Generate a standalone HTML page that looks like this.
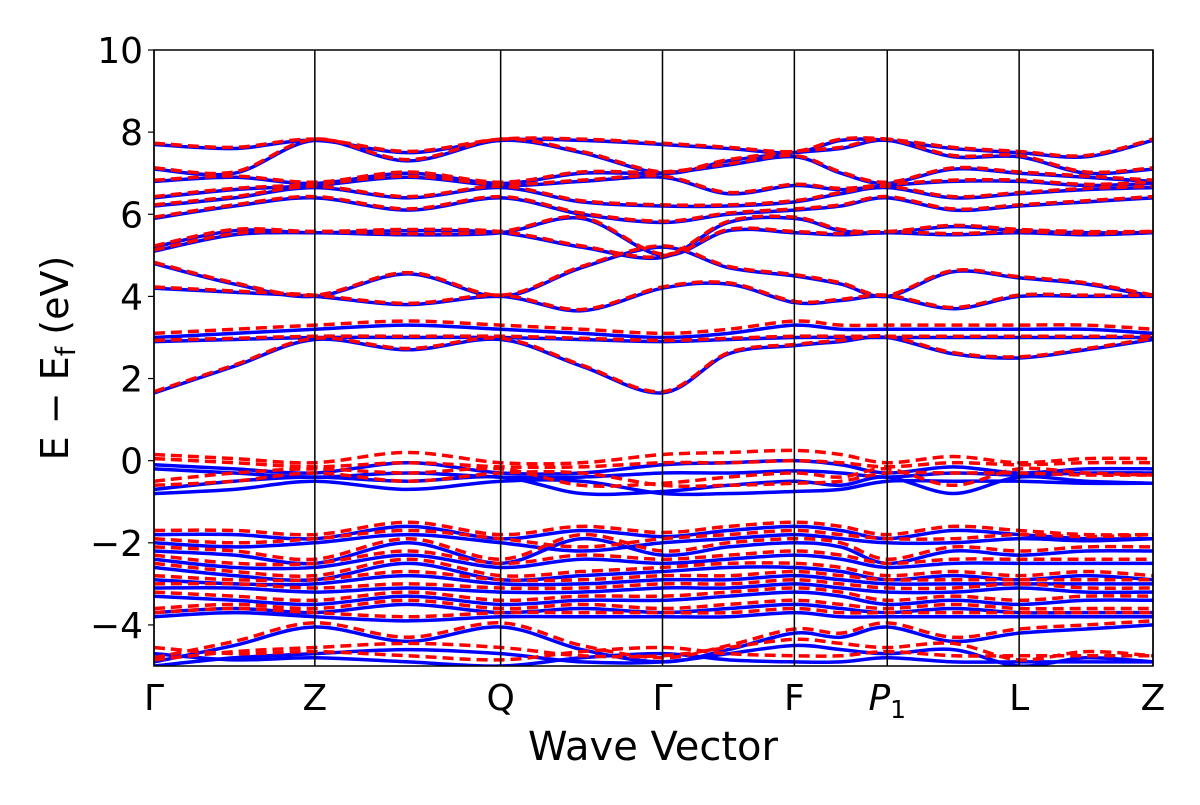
<!DOCTYPE html>
<html><head><meta charset="utf-8"><style>
body{margin:0;background:#fff;}
svg text{font-family:"DejaVu Sans","Liberation Sans",sans-serif;fill:#000;}
</style></head><body>
<svg width="1200" height="800" xmlns="http://www.w3.org/2000/svg">
<g id="blue"></g>
<g id="red"></g>
<g id="axes"></g>
</svg>
<script>
const kTicks = [0, 1, 2, 3, 4, 5, 6, 7];
const kTickLabels = ["Γ","Z","Q","Γ","F","P1","L","Z"];
const kTickPos = [0, 0.161, 0.347, 0.509, 0.641, 0.734, 0.866, 1.0];
const yTicks = [-4,-2,0,2,4,6,8,10];
const yTickLabels = ["−4","−2","0","2","4","6","8","10"];
const blueBands = [
[1.65,2.3,2.95,2.7,2.95,2.3,1.65,2.6,2.8,2.9,3.0,2.6,2.5,2.7,2.95],
[2.9,2.95,3.0,3.0,3.0,2.95,2.9,2.95,3.0,3.0,3.0,3.0,3.0,3.0,3.0],
[3.0,3.1,3.2,3.3,3.2,3.1,3.0,3.1,3.3,3.2,3.2,3.2,3.2,3.2,3.1],
[4.2,4.1,4.0,3.8,4.0,3.65,4.2,4.3,3.85,3.9,4.0,3.7,4.0,4.0,4.0],
[4.8,4.3,4.0,4.55,4.0,4.7,5.2,4.7,4.5,4.3,4.0,4.6,4.45,4.3,4.0],
[5.1,5.5,5.55,5.5,5.55,5.9,5.0,5.6,5.55,5.5,5.55,5.5,5.55,5.5,5.55],
[5.2,5.6,5.55,5.6,5.55,5.2,4.95,5.8,5.9,5.6,5.55,5.7,5.6,5.55,5.55],
[5.9,6.2,6.4,6.1,6.4,6.0,5.8,6.0,6.1,6.2,6.4,6.1,6.2,6.3,6.4],
[6.2,6.4,6.65,6.4,6.65,6.3,6.2,6.2,6.3,6.5,6.65,6.4,6.5,6.6,6.65],
[6.4,6.6,6.7,6.9,6.7,6.8,6.9,6.5,6.7,6.6,6.7,6.8,6.8,6.7,6.75],
[6.8,6.9,6.75,7.0,6.75,7.0,7.0,7.2,7.4,7.0,6.75,7.1,7.0,6.9,6.8],
[7.1,7.0,7.8,7.3,7.8,7.5,7.0,7.3,7.5,7.6,7.8,7.4,7.4,7.0,7.1],
[7.7,7.6,7.8,7.5,7.8,7.8,7.7,7.6,7.5,7.8,7.8,7.6,7.5,7.4,7.8],
[-0.1,-0.2,-0.3,-0.05,-0.3,-0.3,-0.1,-0.05,0.0,-0.1,-0.3,-0.15,-0.3,-0.2,-0.2],
[-0.2,-0.3,-0.4,-0.3,-0.4,-0.4,-0.3,-0.3,-0.25,-0.3,-0.4,-0.3,-0.35,-0.3,-0.3],
[-0.7,-0.5,-0.4,-0.5,-0.4,-0.8,-0.75,-0.6,-0.5,-0.6,-0.4,-0.8,-0.4,-0.5,-0.55],
[-0.8,-0.7,-0.5,-0.7,-0.5,-0.5,-0.8,-0.8,-0.75,-0.7,-0.5,-0.5,-0.5,-0.55,-0.55],
[-1.8,-1.8,-1.9,-1.6,-1.9,-1.7,-1.85,-1.7,-1.6,-1.7,-1.9,-1.7,-1.8,-1.9,-1.9],
[-2.0,-2.1,-2.0,-1.8,-2.0,-2.2,-2.0,-1.9,-1.8,-1.9,-2.0,-2.0,-1.9,-1.95,-1.9],
[-2.2,-2.3,-2.5,-2.0,-2.5,-1.9,-2.3,-2.1,-2.0,-2.1,-2.5,-2.2,-2.3,-2.2,-2.2],
[-2.4,-2.6,-2.6,-2.3,-2.6,-2.4,-2.5,-2.4,-2.3,-2.4,-2.6,-2.5,-2.5,-2.5,-2.5],
[-2.6,-2.8,-2.9,-2.5,-2.9,-2.8,-2.7,-2.6,-2.6,-2.7,-2.9,-2.8,-2.9,-2.8,-2.9],
[-2.9,-3.0,-3.0,-2.8,-3.0,-3.0,-2.9,-2.9,-2.8,-2.9,-3.0,-3.0,-3.0,-3.0,-3.0],
[-3.1,-3.1,-3.2,-3.1,-3.2,-3.2,-3.1,-3.1,-3.0,-3.1,-3.2,-3.2,-3.1,-3.2,-3.2],
[-3.3,-3.4,-3.5,-3.3,-3.5,-3.4,-3.4,-3.3,-3.2,-3.3,-3.5,-3.4,-3.5,-3.4,-3.4],
[-3.7,-3.6,-3.7,-3.5,-3.7,-3.6,-3.7,-3.6,-3.5,-3.6,-3.7,-3.6,-3.7,-3.7,-3.7],
[-3.8,-3.7,-3.8,-3.9,-3.8,-3.8,-3.8,-3.8,-3.7,-3.8,-3.8,-3.8,-3.8,-3.8,-3.8],
[-4.9,-4.5,-4.05,-4.4,-4.05,-4.6,-4.9,-4.6,-4.2,-4.3,-4.05,-4.4,-4.2,-4.1,-4.0],
[-5.0,-4.8,-4.7,-4.6,-4.7,-4.9,-4.9,-4.7,-4.5,-4.6,-4.7,-4.6,-5.0,-4.8,-4.9],
[-4.7,-4.85,-4.8,-4.9,-5.0,-4.8,-4.7,-4.85,-4.9,-4.9,-4.8,-4.9,-4.9,-4.9,-4.9]
];
const redOffsets = [0.03,0.03,0.1,0.03,0.03,0.03,0.03,0.03,0.03,0.03,0.03,0.03,0.03,0.25,0.25,0.2,0.2,0.1,0.1,0.1,0.1,0.1,0.1,0.1,0.1,0.1,0.1,0.1,0.15,0.15];

const X0=154,X1=1153,Y0=50,Y1=666,YMIN=-5,YMAX=10;
const xs=f=>X0+f*(X1-X0);
const ys=v=>Y1-(v-YMIN)/(YMAX-YMIN)*(Y1-Y0);
const NS="http://www.w3.org/2000/svg";
function mk(tag,attrs,parent){const e=document.createElementNS(NS,tag);for(const k in attrs)e.setAttribute(k,attrs[k]);parent.appendChild(e);return e;}
function kFrac(i){const seg=Math.floor(i/2);if(i%2===0)return kTickPos[seg];return (kTickPos[seg]+kTickPos[seg+1])/2;}
function pathFor(vals){
  const p=vals.map((v,i)=>[xs(kFrac(i)),ys(v)]);
  let d=`M${p[0][0]},${p[0][1]}`;
  for(let i=0;i<p.length-1;i++){
    const a=p[Math.max(i-1,0)],b=p[i],c=p[i+1],e=p[Math.min(i+2,p.length-1)];
    const c1=[b[0]+(c[0]-a[0])/6,b[1]+(c[1]-a[1])/6],c2=[c[0]-(e[0]-b[0])/6,c[1]-(e[1]-b[1])/6];
    d+=`C${c1[0]},${c1[1]} ${c2[0]},${c2[1]} ${c[0]},${c[1]}`;
  }
  return d;
}
const svg=document.querySelector('svg');
const defs=mk('defs',{},svg);
const cp=mk('clipPath',{id:'clip'},defs);
mk('rect',{x:X0,y:Y0,width:X1-X0,height:Y1-Y0},cp);
const gb=document.getElementById('blue'),gr=document.getElementById('red');
gb.setAttribute('clip-path','url(#clip)');gr.setAttribute('clip-path','url(#clip)');
blueBands.forEach((b,i)=>{
  const el=mk('path',{d:pathFor(b),fill:'none',stroke:'#0000ff','stroke-width':3.5},gb);
  
  
});
blueBands.forEach((b,i)=>{
  const el=mk('path',{d:pathFor(b.map(v=>v+redOffsets[i])),fill:'none',stroke:'#ff0000','stroke-width':3.5,'stroke-dasharray':'11,6'},gr);
  
  
});
const ga=document.getElementById('axes');
kTickPos.forEach((f,i)=>{
  const x=xs(f);
  const l=mk('line',{x1:x,x2:x,y1:Y0,y2:Y1,stroke:'#000','stroke-width':1.5},ga);
  
  
  const t=mk('text',{x:x,y:710,'font-size':36,'text-anchor':'middle'},ga);
  
  
  if(kTickLabels[i]==='P1'){t.innerHTML='<tspan font-style="italic">P</tspan><tspan font-size="25" dy="8">1</tspan>';}
  else t.textContent=kTickLabels[i];
});
yTicks.forEach((v,i)=>{
  const y=ys(v);
  mk('line',{x1:X0-6,x2:X0,y1:y,y2:y,stroke:'#000','stroke-width':1.2},ga);
  const t=mk('text',{x:X0-11,y:y+13,'font-size':36,'text-anchor':'end'},ga);
  
  
  t.textContent=yTickLabels[i];
});
mk('rect',{x:X0,y:Y0,width:X1-X0,height:Y1-Y0,fill:'none',stroke:'#000','stroke-width':1.5},ga);
const xl=mk('text',{x:653,y:760,'font-size':40,'text-anchor':'middle'},ga);


xl.textContent='Wave Vector';
const yl=mk('text',{x:0,y:0,'font-size':38,'text-anchor':'middle',transform:'translate(68,358) rotate(-90)'},ga);


yl.innerHTML='E − E<tspan font-size="27" dy="7">f</tspan><tspan dy="-7"> (eV)</tspan>';
</script>
</body></html>
